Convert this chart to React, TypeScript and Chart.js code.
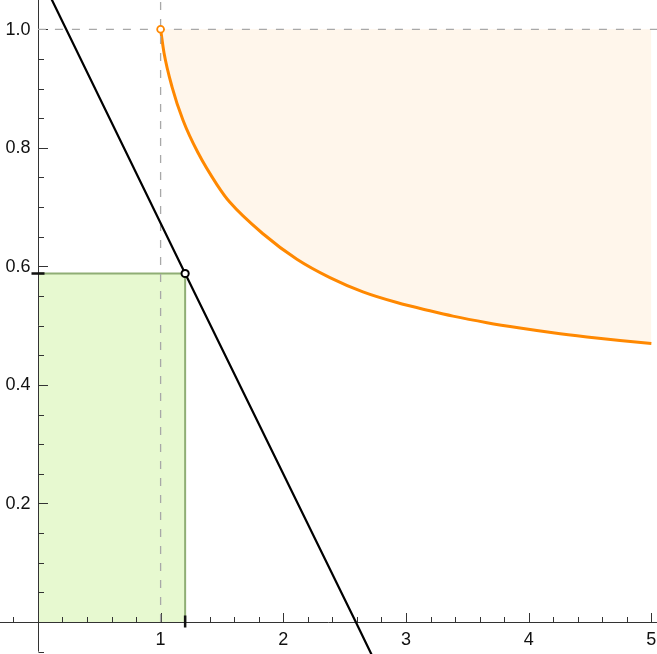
import React, { useEffect, useRef } from "react";
import { Chart, registerables } from "chart.js";

Chart.register(...registerables);

// ---- data ----
const curveX = [1.0, 1.028, 1.093, 1.182, 1.304, 1.459, 1.565, 1.834, 2.111, 2.38, 2.649, 2.926, 3.195, 3.383, 3.66, 3.929, 4.198, 4.475, 4.744, 5.0];
const curveY = [1.0, 0.96, 0.903, 0.847, 0.792, 0.738, 0.708, 0.655, 0.612, 0.581, 0.557, 0.539, 0.525, 0.516, 0.505, 0.496, 0.488, 0.481, 0.475, 0.47];

const budgetX = [0, 1.2, 2.591, 2.75];
const budgetY = [1.098, 0.588, 0, -0.068];

const optimumX = 1.2;
const optimumY = 0.588;

const cornerX = 1;
const cornerY = 1;

const xMajorTicks = [1, 2, 3, 4, 5];
const xTickLabels = ["1", "2", "3", "4", "5"];
const xMinorTicks = [-0.2, 0.2, 0.4, 0.6, 0.8, 1.2, 1.4, 1.6, 1.8, 2.2, 2.4, 2.6, 2.8, 3.2, 3.4, 3.6, 3.8, 4.2, 4.4, 4.6, 4.8];
const yMajorTicks = [0.2, 0.4, 0.6, 0.8, 1.0];
const yTickLabels = ["0.2", "0.4", "0.6", "0.8", "1.0"];
const yMinorTicks = [-0.05, 0.05, 0.1, 0.15, 0.25, 0.3, 0.35, 0.45, 0.5, 0.55, 0.65, 0.7, 0.75, 0.85, 0.9, 0.95];

const X_MIN = -0.309;
const X_MAX = 5.046;
const Y_MIN = -0.054;
const Y_MAX = 1.0494;

const GREEN_INDEX = 5;

const axesPlugin = {
  id: "mathAxes",
  afterDatasetDraw(chart: any, args: any) {
    if (args.index !== GREEN_INDEX) return;
    const ctx = chart.ctx;
    const xs = chart.scales.x;
    const ys = chart.scales.y;
    const area = chart.chartArea;
    const x0 = Math.round(xs.getPixelForValue(0)) + 0.5;
    const y0 = Math.round(ys.getPixelForValue(0)) + 0.5;
    ctx.save();
    ctx.strokeStyle = "#333";
    ctx.lineWidth = 1;
    ctx.beginPath();
    ctx.moveTo(area.left, y0);
    ctx.lineTo(area.right, y0);
    ctx.moveTo(x0, area.top);
    ctx.lineTo(x0, ys.getPixelForValue(-0.05));
    xMinorTicks.forEach((v) => {
      const p = Math.round(xs.getPixelForValue(v)) + 0.5;
      ctx.moveTo(p, y0);
      ctx.lineTo(p, y0 - 5.5);
    });
    xMajorTicks.forEach((v) => {
      const p = Math.round(xs.getPixelForValue(v)) + 0.5;
      ctx.moveTo(p, y0);
      ctx.lineTo(p, y0 - 9.5);
    });
    yMinorTicks.forEach((v) => {
      const p = Math.round(ys.getPixelForValue(v)) + 0.5;
      ctx.moveTo(x0, p);
      ctx.lineTo(x0 + 5.5, p);
    });
    yMajorTicks.forEach((v) => {
      const p = Math.round(ys.getPixelForValue(v)) + 0.5;
      ctx.moveTo(x0, p);
      ctx.lineTo(x0 + 9.5, p);
    });
    ctx.stroke();

    // emphasized ticks at the optimum
    ctx.strokeStyle = "#111";
    ctx.lineWidth = 2.5;
    ctx.beginPath();
    const px = xs.getPixelForValue(optimumX);
    ctx.moveTo(px, y0 - 7);
    ctx.lineTo(px, y0 + 5);
    const py = ys.getPixelForValue(optimumY);
    ctx.moveTo(x0 - 7, py);
    ctx.lineTo(x0 + 6, py);
    ctx.stroke();

    // labels
    ctx.fillStyle = "#111";
    ctx.font = '18px "Liberation Sans", Arial, sans-serif';
    ctx.textAlign = "center";
    ctx.textBaseline = "middle";
    xMajorTicks.forEach((v, i) => {
      ctx.fillText(xTickLabels[i], xs.getPixelForValue(v), y0 + 18);
    });
    ctx.textAlign = "right";
    yMajorTicks.forEach((v, i) => {
      ctx.fillText(yTickLabels[i], x0 - 8, ys.getPixelForValue(v) + 0.5);
    });
    ctx.restore();
  },
};

const ORANGE = "#ff8800";

export default function App() {
  const ref = useRef<HTMLCanvasElement | null>(null);
  useEffect(() => {
    if (!ref.current) return;
    const pts = (xs: number[], ys: number[]) => xs.map((x, i) => ({ x, y: ys[i] }));
    const chart = new Chart(ref.current, {
      type: "scatter",
      data: {
        datasets: [
          {
            data: [{ x: optimumX, y: optimumY }],
            pointRadius: 3.6,
            pointBorderWidth: 2,
            pointBorderColor: "#000",
            pointBackgroundColor: "#fff",
            showLine: false,
          } as any,
          {
            data: [{ x: cornerX, y: cornerY }],
            pointRadius: 3.4,
            pointBorderWidth: 1.8,
            pointBorderColor: ORANGE,
            pointBackgroundColor: "#fff",
            showLine: false,
          },
          {
            data: pts(budgetX, budgetY),
            showLine: true,
            borderColor: "#000",
            borderWidth: 2.2,
            pointRadius: 0,
            fill: false,
          },
          {
            data: [{ x: cornerX, y: 0 }, { x: cornerX, y: Y_MAX + 0.02 }],
            showLine: true,
            borderColor: "#a8a8a8",
            borderWidth: 1.3,
            borderDash: [8, 9],
            pointRadius: 0,
            fill: false,
          },
          {
            data: [{ x: 0, y: cornerY }, { x: X_MAX + 0.02, y: cornerY }],
            showLine: true,
            borderColor: "#a8a8a8",
            borderWidth: 1.3,
            borderDash: [8, 9],
            pointRadius: 0,
            fill: false,
          },
          {
            data: [{ x: 0, y: optimumY }, { x: optimumX, y: optimumY }, { x: optimumX, y: 0 }],
            showLine: true,
            borderColor: "#8fae75",
            borderWidth: 2,
            backgroundColor: "rgb(231,249,208)",
            pointRadius: 0,
            fill: { value: 0 },
          },
          {
            data: pts(curveX, curveY),
            showLine: true,
            borderColor: ORANGE,
            borderWidth: 3,
            backgroundColor: "rgba(255,136,0,0.08)",
            cubicInterpolationMode: "monotone",
            pointRadius: 0,
            fill: { value: 1 },
          },
        ],
      },
      options: {
        responsive: false,
        animation: false,
        devicePixelRatio: 1,
        layout: { padding: 0, autoPadding: false },
        plugins: { legend: { display: false }, tooltip: { enabled: false } },
        events: [],
        scales: {
          x: { type: "linear", min: X_MIN, max: X_MAX, display: false },
          y: { type: "linear", min: Y_MIN, max: Y_MAX, display: false },
        },
      },
      plugins: [axesPlugin],
    });
    return () => chart.destroy();
  }, []);
  return (
    <div style={{ position: "absolute", left: 0, top: 0, width: 657, height: 654, background: "#fff" }}>
      <canvas ref={ref} width={657} height={654} style={{ display: "block" }} />
    </div>
  );
}
